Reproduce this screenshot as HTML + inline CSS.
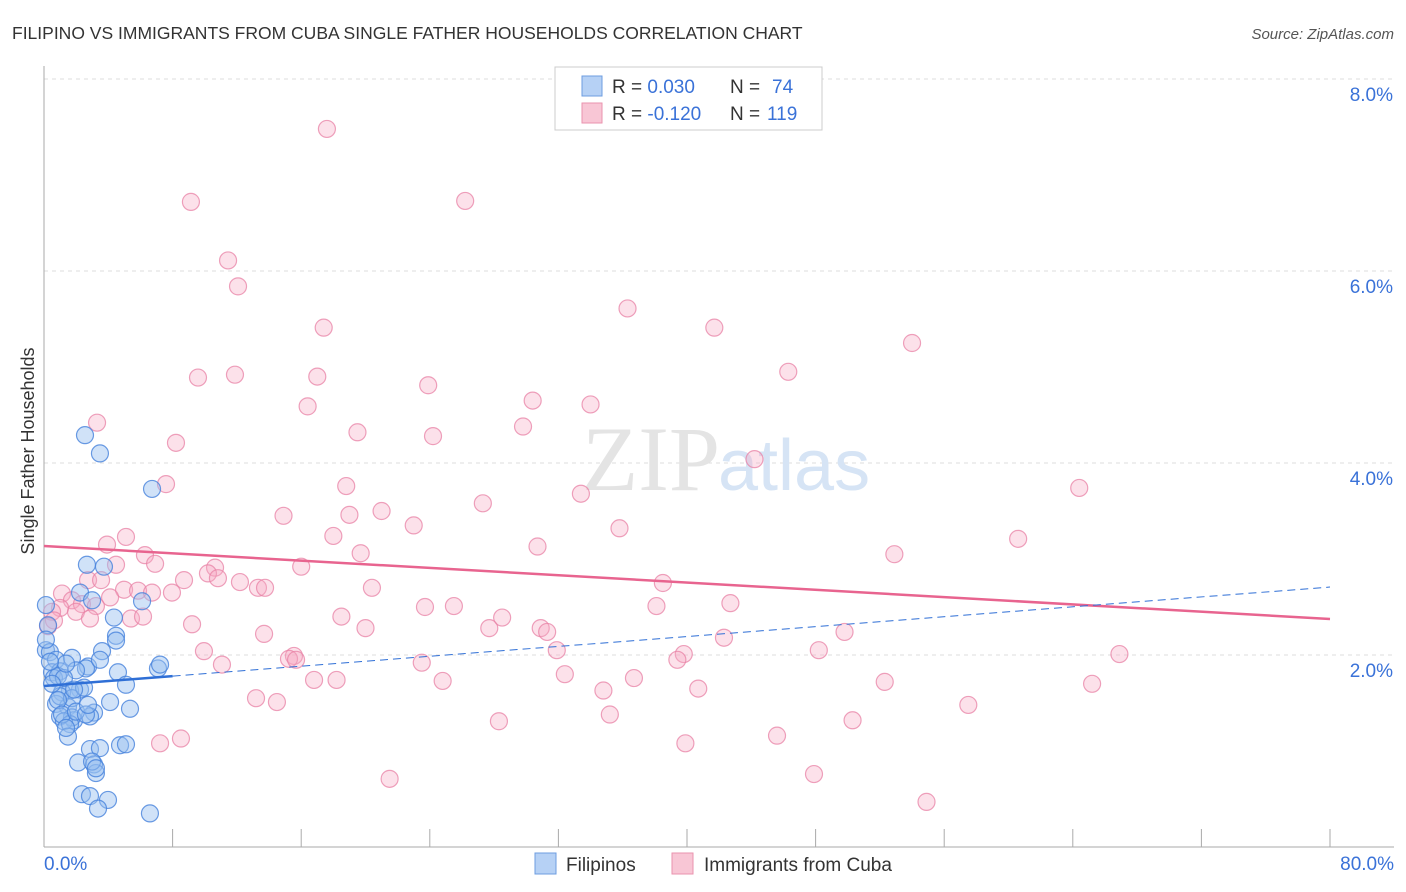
<!DOCTYPE html>
<html><head><meta charset="utf-8"><style>
body{margin:0;background:#fff;font-family:"Liberation Sans",sans-serif}
svg{display:block}
</style></head><body>
<svg id="chart" width="1406" height="892">
<text x="12" y="39" font-size="17.5" fill="#333">FILIPINO VS IMMIGRANTS FROM CUBA SINGLE FATHER HOUSEHOLDS CORRELATION CHART</text>
<text x="1394" y="39" font-size="15" fill="#555" font-style="italic" text-anchor="end">Source: ZipAtlas.com</text>
<text x="40" y="457" font-size="18" fill="#333" text-anchor="middle" transform="rotate(-90 34 457)">Single Father Households</text>
<g id="grid"></g>
<text x="720" y="490" font-size="92" fill="#e4e4e4" text-anchor="end" font-family="Liberation Serif,serif">ZIP</text>
<text x="718" y="490" font-size="72" fill="#d6e4f5">atlas</text>
<g id="points"></g>
<g id="lines"></g>
<g>
<rect x="555" y="67" width="267" height="63" fill="#fff" stroke="#ccc"/>
<rect x="582" y="76" width="20" height="20" fill="#b6d1f5" stroke="#6d9de0"/>
<rect x="582" y="103" width="20" height="20" fill="#f8c6d5" stroke="#ea93ae"/>
<text x="612" y="93" font-size="19" fill="#333">R = <tspan fill="#3a72d8"> 0.030</tspan><tspan x="730">N = </tspan><tspan fill="#3a72d8" x="772">74</tspan></text>
<text x="612" y="120" font-size="19" fill="#333">R = <tspan fill="#3a72d8">-0.120</tspan><tspan x="730">N = </tspan><tspan fill="#3a72d8" x="767">119</tspan></text>
</g>
<g>
<rect x="535" y="853" width="21" height="21" fill="#b6d1f5" stroke="#6d9de0"/>
<text x="566" y="871" font-size="19" fill="#333">Filipinos</text>
<rect x="672" y="853" width="21" height="21" fill="#f8c6d5" stroke="#ea93ae"/>
<text x="704" y="871" font-size="19" fill="#333">Immigrants from Cuba</text>
</g>
</svg>
<script>
const xTicks=[0,8,16,24,32,40,48,56,64,72,80];
const yTicks=[2,4,6,8];
const yTickLabels=["2.0%","4.0%","6.0%","8.0%"];
const xEndLabels=["0.0%","80.0%"];
const filX=[2.55,3.48,6.72,2.67,3.73,2.24,2.99,6.10,0.12,4.35,4.48,4.48,3.61,0.12,0.37,0.75,1.74,2.74,4.60,7.09,2.61,0.50,1.00,0.62,0.87,2.24,1.62,1.12,5.10,4.11,0.75,1.49,1.00,1.87,3.11,1.74,1.24,1.62,2.86,5.35,1.49,2.12,2.86,3.48,4.73,5.10,3.11,3.23,2.36,2.86,3.98,3.36,6.59,0.25,0.12,1.00,1.74,2.49,1.99,1.24,7.22,3.48,1.37,0.37,0.50,0.87,1.12,1.37,1.99,2.61,2.99,3.23,1.87,2.74];
const filY=[4.29,4.10,3.73,2.94,2.92,2.65,2.57,2.56,2.52,2.39,2.20,2.15,2.04,2.05,2.03,1.95,1.97,1.88,1.82,1.86,1.86,1.82,1.83,1.76,1.78,1.64,1.63,1.61,1.69,1.51,1.49,1.46,1.36,1.32,1.40,1.35,1.31,1.28,1.36,1.44,1.15,0.88,1.02,1.03,1.06,1.07,0.86,0.77,0.55,0.53,0.49,0.40,0.35,2.31,2.16,1.57,1.55,1.66,1.84,1.76,1.90,1.95,1.91,1.93,1.70,1.53,1.38,1.24,1.41,1.38,0.89,0.82,1.64,1.48];
const cubX=[17.6,9.14,26.2,11.45,12.07,36.3,17.4,41.7,54.0,11.88,9.58,17.0,46.3,23.9,16.4,30.4,34.0,3.30,19.5,29.8,24.2,8.21,44.2,7.59,18.8,33.4,64.4,27.3,14.9,19.0,21.0,23.0,35.8,18.0,5.10,60.6,30.7,3.92,19.7,52.9,6.28,4.48,6.91,16.0,10.64,10.20,10.82,8.71,2.74,3.55,12.19,38.5,20.4,13.31,13.75,4.98,5.85,6.72,1.12,7.96,4.11,1.74,2.36,3.23,1.00,0.50,1.99,25.5,23.7,38.1,42.7,18.5,5.41,6.16,0.62,0.25,2.86,9.21,20.0,27.7,28.5,30.9,31.3,13.69,49.8,42.3,31.9,9.95,48.2,15.55,15.24,15.68,39.8,39.4,66.9,23.5,11.07,32.4,36.7,16.8,18.2,24.8,52.3,65.2,34.8,40.7,13.19,14.49,57.5,35.2,28.3,50.3,45.6,7.22,8.52,39.9,21.5,47.9,54.9];
const cubY=[7.48,6.72,6.73,6.11,5.84,5.61,5.41,5.41,5.25,4.92,4.89,4.90,4.95,4.81,4.59,4.65,4.61,4.42,4.32,4.38,4.28,4.21,4.04,3.78,3.76,3.68,3.74,3.58,3.45,3.46,3.50,3.35,3.32,3.24,3.23,3.21,3.13,3.15,3.06,3.05,3.04,2.94,2.95,2.92,2.91,2.85,2.80,2.78,2.78,2.78,2.76,2.75,2.70,2.70,2.70,2.68,2.67,2.65,2.64,2.65,2.60,2.57,2.53,2.51,2.49,2.45,2.45,2.51,2.50,2.51,2.54,2.40,2.38,2.40,2.36,2.30,2.38,2.32,2.28,2.28,2.39,2.28,2.24,2.22,2.24,2.18,2.05,2.04,2.05,1.99,1.96,1.95,2.01,1.95,2.01,1.92,1.90,1.80,1.76,1.74,1.74,1.73,1.72,1.70,1.63,1.65,1.55,1.51,1.48,1.38,1.31,1.32,1.16,1.08,1.13,1.08,0.71,0.76,0.47];
const filTrend=[1.677,2.708];
const cubTrend=[3.135,2.375];
const NS="http://www.w3.org/2000/svg";
const sx=v=>44+v/80*1286;
const sy=v=>847-v*96;
function mk(tag,attrs,parent){const e=document.createElementNS(NS,tag);for(const k in attrs)e.setAttribute(k,attrs[k]);parent.appendChild(e);return e;}
const grid=document.getElementById('grid');
yTicks.forEach((t,i)=>{
 const l=mk('line',{x1:44,x2:1394,y1:sy(t),y2:sy(t),stroke:'#ddd','stroke-dasharray':'4,4'},grid);
 
 
 const tx=mk('text',{x:1393,y:sy(t)+22,'font-size':19,fill:'#3a72d8','text-anchor':'end'},grid);
 tx.textContent=yTickLabels[i];
 
 
});
const tl=mk('line',{x1:44,x2:1394,y1:sy(8),y2:sy(8),stroke:'#ddd','stroke-dasharray':'4,4'},grid);
const ya=mk('line',{x1:44,x2:44,y1:66,y2:847,stroke:'#aaa'},grid);


const xa=mk('line',{x1:44,x2:1394,y1:847,y2:847,stroke:'#aaa'},grid);


xTicks.forEach(t=>{
 const l=mk('line',{x1:sx(t),x2:sx(t),y1:829,y2:847,stroke:'#aaa'},grid);
 
 
});
[[0,'start',44],[80,'end',1394]].forEach((d,i)=>{
 const t=mk('text',{x:d[2],y:870,'font-size':19,fill:'#3a72d8','text-anchor':d[1]},grid);
 t.textContent=xEndLabels[i];
 
 
});
const pts=document.getElementById('points');
cubX.forEach((x,i)=>{
 const c=mk('circle',{cx:sx(x),cy:sy(cubY[i]),r:8.5,fill:'rgba(245,170,195,0.35)',stroke:'rgba(232,130,165,0.75)','stroke-width':1.2},pts);
 
 
});
filX.forEach((x,i)=>{
 const c=mk('circle',{cx:sx(x),cy:sy(filY[i]),r:8.5,fill:'rgba(150,190,240,0.45)',stroke:'rgba(70,130,220,0.8)','stroke-width':1.2},pts);
 
 
});
const lines=document.getElementById('lines');
const fy=x=>filTrend[0]+(filTrend[1]-filTrend[0])*x/80;
const cy=x=>cubTrend[0]+(cubTrend[1]-cubTrend[0])*x/80;
const p=mk('line',{x1:sx(0),y1:sy(cy(0)),x2:sx(80),y2:sy(cy(80)),stroke:'#e8648f','stroke-width':2.5},lines);


const bs=mk('line',{x1:sx(0),y1:sy(fy(0)),x2:sx(8),y2:sy(fy(8)),stroke:'#2f6fd6','stroke-width':2.5},lines);


const bd=mk('line',{x1:sx(8),y1:sy(fy(8)),x2:sx(80),y2:sy(fy(80)),stroke:'#2f6fd6','stroke-width':1,'stroke-dasharray':'8,5'},lines);


</script>
</body></html>
